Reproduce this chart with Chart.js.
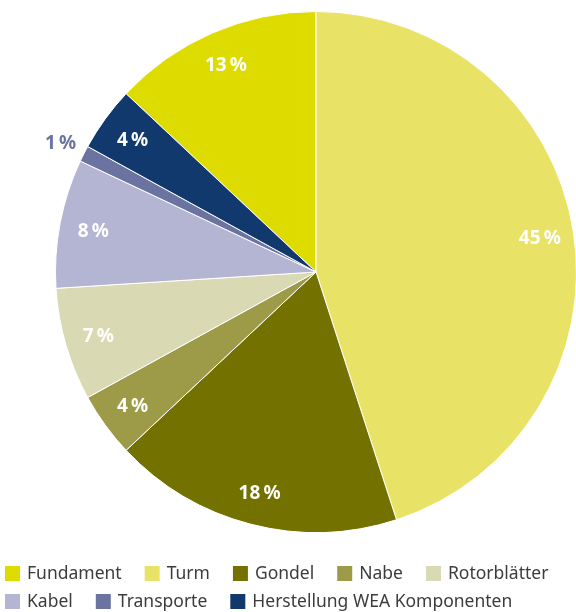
<!DOCTYPE html>
<html>
<head>
<meta charset="utf-8">
<script src="https://cdn.jsdelivr.net/npm/chart.js@4.4.1/dist/chart.umd.min.js"></script>
<style>
  html, body { margin: 0; padding: 0; background: #fff; }
  #wrap { width: 576px; height: 612px; }
</style>
</head>
<body>
<div id="wrap"><canvas id="c"></canvas></div>
<script>
var labels = ['Fundament', 'Turm', 'Gondel', 'Nabe', 'Rotorblätter', 'Kabel', 'Transporte', 'Herstellung WEA Komponenten'];
var shares = [13, 45, 18, 4, 7, 8, 1, 4];
var colors = ['#dedb00', '#e8e366', '#737200', '#9d9b47', '#d9d9b4', '#b4b5d3', '#6b73a0', '#12396d'];

// pie area; the legend is drawn below it by hand
var pieBox = {left: 55, top: 11, right: 577, bottom: 533};

var moveArea = {
   id: 'moveArea',
   afterLayout: function(chart) {
      var a = chart.chartArea;
      a.left = pieBox.left;
      a.top = pieBox.top;
      a.right = pieBox.right;
      a.bottom = pieBox.bottom;
      a.width = a.right - a.left;
      a.height = a.bottom - a.top;
   }
};

var sliceLabels = {
   id: 'sliceLabels',
   afterDatasetsDraw: function(chart) {
      var ctx = chart.ctx;
      var meta = chart.getDatasetMeta(0);
      ctx.save();
      ctx.font = 'bold 19px "Noto Sans", sans-serif';
      ctx.textAlign = 'center';
      ctx.textBaseline = 'alphabetic';
      meta.data.forEach(function(arc, i) {
         var p = arc.getProps(['x', 'y', 'startAngle', 'endAngle', 'outerRadius']);
         var mid = (p.startAngle + p.endAngle) / 2;
         var small = shares[i] < 2;
         var r = p.outerRadius * (small ? 1.1 : 0.87);
         ctx.fillStyle = small ? colors[i] : '#ffffff';
         ctx.fillText(shares[i] + '\u2009%', p.x + Math.cos(mid) * r, p.y + Math.sin(mid) * r + 7);
      });
      ctx.restore();
   }
};

var bottomLegend = {
   id: 'bottomLegend',
   afterDraw: function(chart) {
      var ctx = chart.ctx;
      var x = 5, y = 573, box = 15, gap = 23, rowH = 28;
      ctx.save();
      ctx.font = '17.5px "Noto Sans", sans-serif';
      ctx.textBaseline = 'middle';
      ctx.textAlign = 'left';
      chart.data.labels.forEach(function(name, i) {
         var w = box + 7 + ctx.measureText(name).width;
         if (x + w > chart.width) {
            x = 5;
            y += rowH;
         }
         ctx.fillStyle = chart.data.datasets[0].backgroundColor[i];
         ctx.fillRect(x, y - 7, box, box);
         ctx.fillStyle = '#3c3c3c';
         ctx.fillText(name, x + box + 7, y + 1);
         x += w + gap;
      });
      ctx.restore();
   }
};

new Chart(document.getElementById('c'), {
   type: 'pie',
   data: {
      labels: labels,
      datasets: [{
         data: shares,
         backgroundColor: colors,
         borderColor: '#ffffff',
         borderWidth: 1
      }]
   },
   options: {
      responsive: true,
      maintainAspectRatio: false,
      animation: false,
      rotation: -shares[0] * 3.6,
      layout: { padding: 0 },
      plugins: {
         tooltip: { enabled: false },
         legend: { display: false }
      }
   },
   plugins: [moveArea, sliceLabels, bottomLegend]
});
</script>
</body>
</html>
